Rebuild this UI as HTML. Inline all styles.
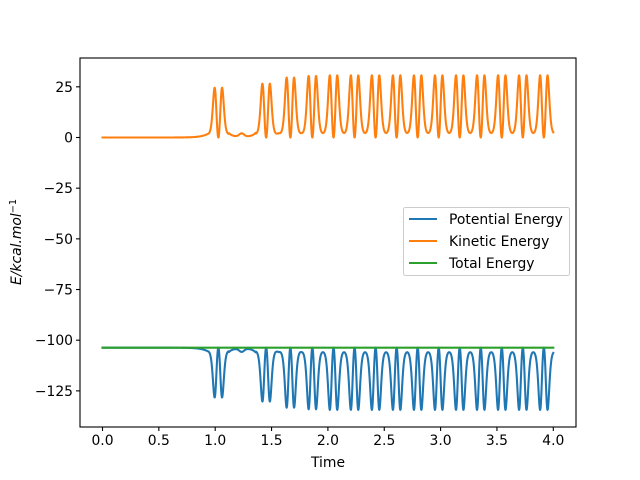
<!DOCTYPE html>
<html><head><meta charset="utf-8"><style>
html,body{margin:0;padding:0;background:#fff;}
svg{display:block;font-family:"DejaVu Sans","Liberation Sans",sans-serif;}
</style></head><body>
<svg id="s" width="640" height="480" viewBox="0 0 640 480" xmlns="http://www.w3.org/2000/svg">
<rect width="640" height="480" fill="#fff"/>
<g id="lines" fill="none" stroke-width="2.08" stroke-linejoin="round" stroke-linecap="square"></g>
<rect x="80" y="58" width="496" height="369" fill="none" stroke="#000" stroke-width="1.1"/>
<g id="ticks" stroke="#000" stroke-width="1.1"></g>
<g id="labels" font-size="13.9" fill="#000"></g>
<text x="328" y="467" font-size="13.9" text-anchor="middle">Time</text>
<text transform="translate(21,242) rotate(-90)" font-size="13.9" text-anchor="middle" font-style="italic">E/kcal.mol<tspan dy="-5" font-size="9.7" font-style="normal">−1</tspan></text>
<rect x="403.5" y="207.5" width="166" height="68" fill="#fff" fill-opacity="0.8" stroke="#ccc" rx="2"/>
<line x1="409" y1="219" x2="437" y2="219" stroke="#1f77b4" stroke-width="2.08"/>
<line x1="409" y1="241" x2="437" y2="241" stroke="#ff7f0e" stroke-width="2.08"/>
<line x1="409" y1="263" x2="437" y2="263" stroke="#2ca02c" stroke-width="2.08"/>
<text x="449" y="224" font-size="13.9">Potential Energy</text>
<text x="449" y="246" font-size="13.9">Kinetic Energy</text>
<text x="449" y="268" font-size="13.9">Total Energy</text>
</svg>
<script>
var X=function(t){return 102.5+112.7*t;}, Y=function(v){return 137.5-2.027*v;};
var NS="http://www.w3.org/2000/svg";
var tk=document.getElementById('ticks'), lb=document.getElementById('labels');
function el(p,n,a,txt){var e=document.createElementNS(NS,n);for(var k in a)e.setAttribute(k,a[k]);if(txt!==undefined)e.textContent=txt;p.appendChild(e);}
for(var i=0;i<=8;i++){var t=i*0.5,x=X(t);el(tk,'line',{x1:x,y1:427,x2:x,y2:431});el(lb,'text',{x:x,y:445,'text-anchor':'middle'},t.toFixed(1));}
for(var v=25;v>=-125;v-=25){var y=Y(v);el(tk,'line',{x1:76,y1:y,x2:80,y2:y});el(lb,'text',{x:73,y:y+5,'text-anchor':'end'},String(v).replace('-','−'));}
var centers=[1.028,1.452,1.667,1.862,2.05],peaks=[24.5,26.5,29.5,30.3,30.6];
while(centers[centers.length-1]<4.1){centers.push(centers[centers.length-1]+0.1866);peaks.push(30.6);}
var T=0.1866;
function f(th){var u=(1-Math.cos(th))/2;return u*Math.exp(-4.57*Math.pow(u,1.5));}
function KE(t){
 if(t<1.028-T/2){return peaks[0]/0.142*f(Math.PI)*Math.exp((t-(1.028-T/2))/0.06);}
 if(t>1.028+T/2&&t<1.452-T/2){
   var b=0.4+1.6*Math.exp(-Math.pow((t-1.235)/0.03,2));
   var e1=peaks[0]/0.142*f(Math.PI)*Math.exp(-(t-(1.028+T/2))/0.03);
   var e2=peaks[1]/0.142*f(Math.PI)*Math.exp((t-(1.452-T/2))/0.03);
   return b+e1+e2;}
 var best=0;for(var i=1;i<centers.length;i++){if(Math.abs(t-centers[i])<Math.abs(t-centers[best]))best=i;}
 var th=2*Math.PI*(t-centers[best])/T;if(th>Math.PI)th=Math.PI;if(th<-Math.PI)th=-Math.PI;
 return peaks[best]/0.142*f(th);
}
var pk="",pp="";
for(var i=0;i<=4000;i++){var t=i*0.001,k=KE(t);pk+=(i?"L":"M")+X(t).toFixed(2)+","+Y(k).toFixed(2);pp+=(i?"L":"M")+X(t).toFixed(2)+","+Y(-103.7-k).toFixed(2);}
var g=document.getElementById('lines');
el(g,'path',{d:pp,stroke:'#1f77b4'});
el(g,'path',{d:pk,stroke:'#ff7f0e'});
el(g,'path',{d:"M"+X(0)+","+Y(-103.7)+"L"+X(4)+","+Y(-103.7),stroke:'#2ca02c'});
</script>
</body></html>
